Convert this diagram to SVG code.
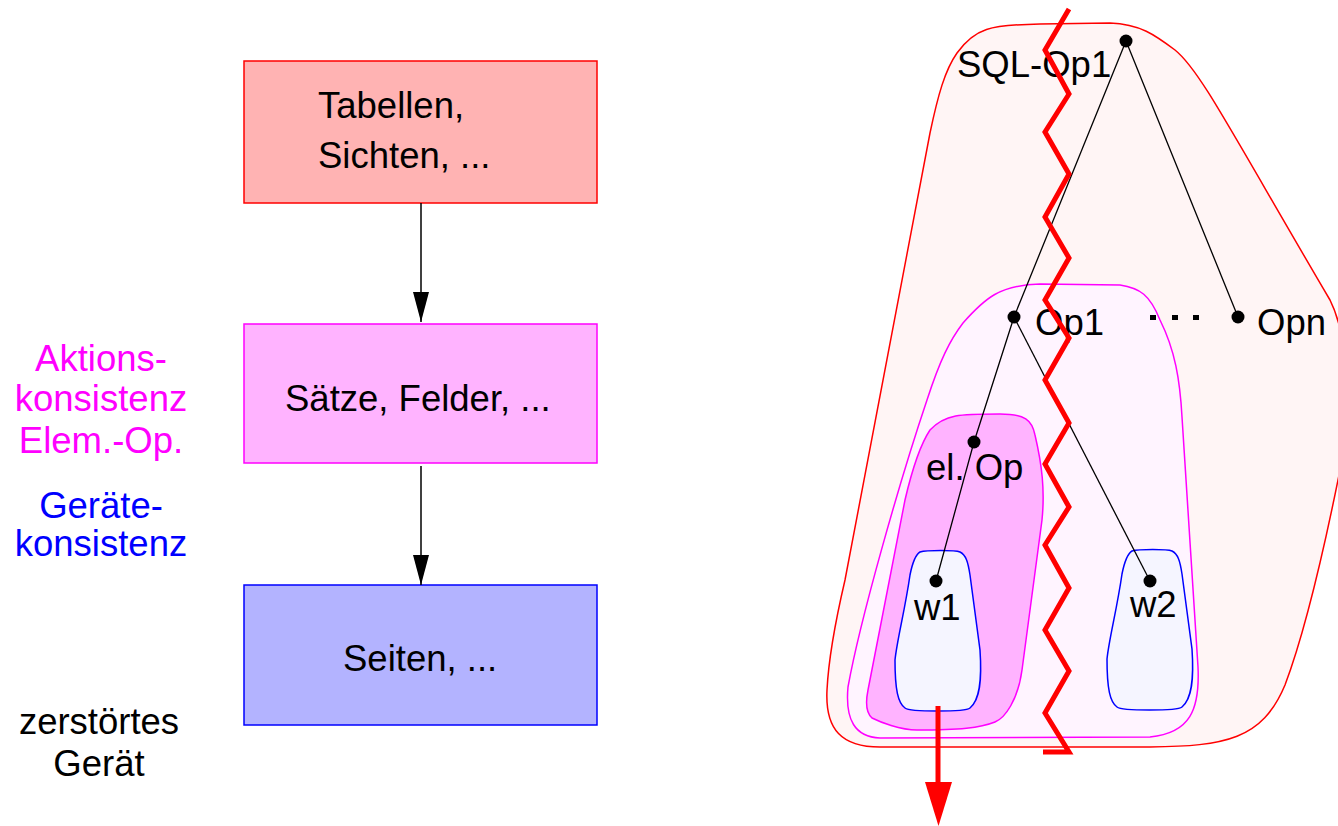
<svg xmlns="http://www.w3.org/2000/svg" width="1338" height="826" viewBox="0 0 1338 826">
<defs>
<style>
text{font-family:"Liberation Sans",Arial,sans-serif;font-size:36.5px;fill:#000}
.box{stroke-width:1.5}
.edge{stroke:#000;stroke-width:1.5;fill:none}
.tree{stroke:#000;stroke-width:1.3;fill:none}
.dot{fill:#000}
</style>
<marker id="ah" viewBox="0 0 30 16" refX="30" refY="8" markerWidth="30" markerHeight="16" markerUnits="userSpaceOnUse" orient="auto">
<path d="M0,0 L30,8 L0,16 Z"/>
</marker>
</defs>
<rect width="1338" height="826" fill="#fff"/>

<g id="box-tabellen">
<rect class="box" x="244" y="61" width="353" height="142" fill="#ffb3b3" stroke="#f00"/>
<text x="318" y="118">Tabellen,</text>
<text x="318" y="168">Sichten, ...</text>
</g>
<g id="box-saetze">
<rect class="box" x="244" y="324" width="353" height="139" fill="#ffb3ff" stroke="#f0f"/>
<text x="285" y="411">Sätze, Felder, ...</text>
</g>
<g id="box-seiten">
<rect class="box" x="244" y="585" width="353" height="140" fill="#b3b3ff" stroke="#00f"/>
<text x="343" y="671">Seiten, ...</text>
</g>

<g id="connectors">
<path class="edge" d="M421,203 L421,322" marker-end="url(#ah)"/>
<path class="edge" d="M421,466 L421,585" marker-end="url(#ah)"/>
</g>

<g id="labels-left">
<text x="101" y="371" text-anchor="middle" style="fill:#f0f">Aktions-</text>
<text x="101" y="411" text-anchor="middle" style="fill:#f0f">konsistenz</text>
<text x="101" y="453" text-anchor="middle" style="fill:#f0f">Elem.-Op.</text>
<text x="101" y="518" text-anchor="middle" style="fill:#00f">Geräte-</text>
<text x="101" y="556" text-anchor="middle" style="fill:#00f">konsistenz</text>
<text x="99" y="734" text-anchor="middle">zerstörtes</text>
<text x="99" y="776" text-anchor="middle">Gerät</text>
</g>

<g id="blob-sql">
<path d="M957,53 C975,28 990,25 1040,24 L1110,23 C1140,24 1155,35 1175,50 C1200,70 1230,130 1330,300 C1345,330 1352,380 1340,470 C1322,560 1302,640 1285,685 C1262,740 1225,746 1150,747 L880,747 C842,747 825,730 827,690 C829,650 838,610 845,580 L930,133 C938,95 945,70 957,53 Z" fill="#fff5f5" stroke="#f00" stroke-width="1.5"/>
</g>
<g id="blob-op1">
<path d="M963,323 C985,298 1000,285 1040,284 L1120,285 C1140,288 1150,295 1160,320 C1175,350 1180,380 1182,417 L1198,667 C1200,710 1190,733 1150,737 L880,738 C855,737 845,720 848,687 C860,620 900,480 927,400 C940,360 950,340 963,323 Z" fill="#fff4ff" stroke="#f0f" stroke-width="1.5"/>
</g>
<g id="blob-elop">
<path d="M930,430 C945,414 960,414 1000,414 C1025,414 1032,420 1035,435 C1042,465 1045,490 1042,520 L1022,670 C1018,700 1005,718 995,722 C980,728 960,730 917,730 C900,730 880,722 872,718 C865,712 866,700 868,690 L905,500 C912,470 920,445 930,430 Z" fill="#ffb3ff" stroke="#f0f" stroke-width="1.5"/>
</g>
<g id="blob-w1">
<path d="M920,552 C927,550 955,550 960,552 C966,555 968,562 970,575 L980,650 C982,680 980,700 970,708 C965,712 910,712 905,708 C898,703 895,690 895,660 C897,640 905,610 910,575 C912,565 915,555 920,552 Z" fill="#f5f5ff" stroke="#00f" stroke-width="1.5"/>
</g>
<g id="blob-w2">
<path transform="translate(212,-1)" d="M920,552 C927,550 955,550 960,552 C966,555 968,562 970,575 L980,650 C982,680 980,700 970,708 C965,712 910,712 905,708 C898,703 895,690 895,660 C897,640 905,610 910,575 C912,565 915,555 920,552 Z" fill="#f5f5ff" stroke="#00f" stroke-width="1.5"/>
</g>

<g id="tree-edges">
<path class="tree" d="M1126,41 L1014,317"/>
<path class="tree" d="M1126,41 L1238,317"/>
<path class="tree" d="M1014,317 L974,442 L936,581"/>
<path class="tree" d="M1014,317 L1150,581"/>
</g>

<g id="node-sqlop1">
<circle class="dot" cx="1126" cy="41" r="6.5"/>
<text x="957" y="77">SQL-Op1</text>
</g>
<g id="node-op1">
<circle class="dot" cx="1014" cy="317" r="6.5"/>
<text x="1035" y="335">Op1</text>
</g>
<g id="node-opn">
<circle class="dot" cx="1238" cy="317" r="6.5"/>
<text x="1257" y="335">Opn</text>
</g>
<g id="ellipsis">
<rect x="1150" y="315" width="6" height="5"/>
<rect x="1172" y="315" width="6" height="5"/>
<rect x="1193" y="315" width="6" height="5"/>
</g>
<g id="node-elop">
<circle class="dot" cx="974" cy="442" r="6.5"/>
<text x="926" y="480">el. Op</text>
</g>
<g id="node-w1">
<circle class="dot" cx="936" cy="581" r="6.5"/>
<text x="914" y="620">w1</text>
</g>
<g id="node-w2">
<circle class="dot" cx="1150" cy="581" r="6.5"/>
<text x="1130" y="617">w2</text>
</g>

<g id="crash">
<polyline points="1069,9 1045,50 1069,94 1045,132 1069,174 1045,217 1069,258 1045,300 1069,338 1045,380 1069,423 1045,464 1069,507 1045,545 1069,588 1045,630 1069,671 1045,713 1069,752 1043,752" fill="none" stroke="#f00" stroke-width="5" stroke-linejoin="miter" stroke-miterlimit="10"/>
<path d="M938,706 L938,785" stroke="#f00" stroke-width="5" fill="none"/>
<path d="M925,782 L952,782 L938.5,826 Z" fill="#f00"/>
</g>
</svg>
